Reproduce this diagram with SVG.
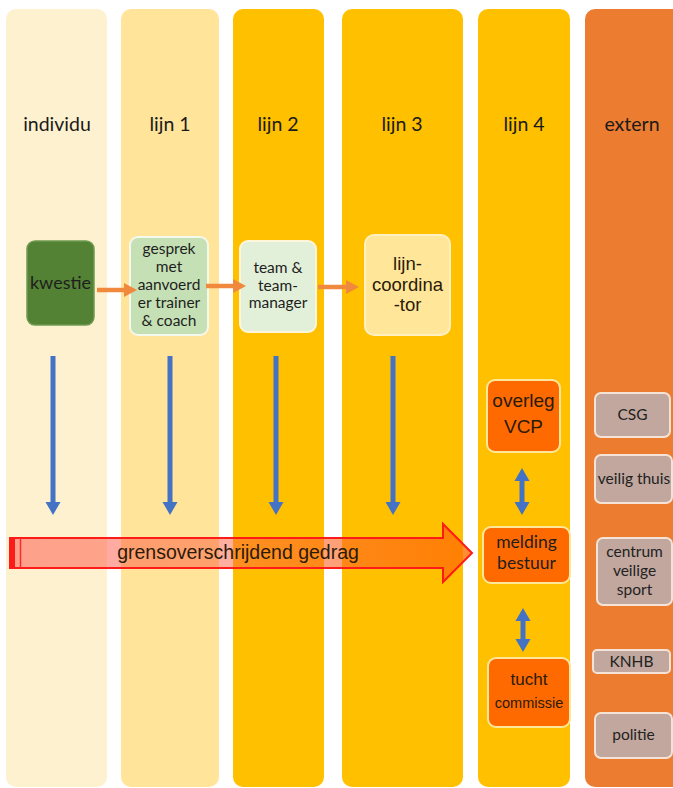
<svg xmlns="http://www.w3.org/2000/svg" width="673" height="788" viewBox="0 0 673 788">
<defs>
<style>
.hdr{font-family:Lato,"Liberation Sans",sans-serif;font-size:19.5px;fill:#1a1a1a;text-anchor:middle}
.cal{font-family:Lato,"Liberation Sans",sans-serif;text-anchor:middle;fill:#1e1e1e}
.ari{font-family:"Liberation Sans",Arial,sans-serif;text-anchor:middle;fill:#2a1a0a}
.ext rect{fill:#C1A79D;stroke:#F6E3D8;stroke-width:2}
.ext text{font-family:Lato,"Liberation Sans",sans-serif;font-size:15.5px;fill:#222;text-anchor:middle}
.l4 rect{fill:#FF6A00;stroke:#FFE79A;stroke-width:2}
.blue{stroke:#4472C4;stroke-width:5;fill:none}
.bluehead{fill:#4472C4}
.orng{stroke:#F0883E;stroke-width:4.5;fill:none}
.ornghead{fill:#F0883E}
</style>
<linearGradient id="bigfill" x1="0" y1="0" x2="1" y2="0">
<stop offset="0" stop-color="#FF5048" stop-opacity="0.5"/>
<stop offset="0.5" stop-color="#FF6040" stop-opacity="0.5"/>
<stop offset="1" stop-color="#FF7000" stop-opacity="0.8"/>
</linearGradient>
</defs>
<rect x="0" y="0" width="673" height="788" fill="#ffffff"/>
<g id="columns">
<rect x="6" y="9" width="101" height="778" rx="10" fill="#FEF1CF"/>
<rect x="121" y="9" width="98" height="778" rx="10" fill="#FFE49A"/>
<rect x="233" y="9" width="91" height="778" rx="10" fill="#FFC000"/>
<rect x="342" y="9" width="121" height="778" rx="10" fill="#FFC000"/>
<rect x="478" y="9" width="92" height="778" rx="10" fill="#FFC000"/>
<rect x="585" y="9" width="110" height="778" rx="10" fill="#EC7C30"/>
</g>
<g id="headers">
<text class="hdr" x="57" y="131">individu</text>
<text class="hdr" x="170" y="131">lijn 1</text>
<text class="hdr" x="278" y="131">lijn 2</text>
<text class="hdr" x="402" y="131">lijn 3</text>
<text class="hdr" x="524" y="131">lijn 4</text>
<text class="hdr" x="632" y="131">extern</text>
</g>
<g id="kwestie">
<rect x="27" y="241" width="67" height="84" rx="8" fill="#548235" stroke="#6F9A50" stroke-width="1.5"/>
<text class="cal" x="60.5" y="289" font-size="18" fill="#111">kwestie</text>
</g>
<g id="gesprek">
<rect x="130" y="237" width="78" height="98" rx="8" fill="#C5E0B4" stroke="#F4F9EE" stroke-width="2"/>
<text class="cal" font-size="15.5" x="169" y="254">gesprek</text>
<text class="cal" font-size="15.5" x="169" y="272">met</text>
<text class="cal" font-size="15.5" x="169" y="290">aanvoerd</text>
<text class="cal" font-size="15.5" x="169" y="308">er trainer</text>
<text class="cal" font-size="15.5" x="169" y="326">&amp; coach</text>
</g>
<g id="team">
<rect x="240" y="241" width="76" height="91" rx="8" fill="#E2EFD9" stroke="#FFF6DA" stroke-width="2"/>
<text class="cal" font-size="15.5" x="278" y="273">team &amp;</text>
<text class="cal" font-size="15.5" x="278" y="291">team-</text>
<text class="cal" font-size="15.5" x="278" y="308">manager</text>
</g>
<g id="lijncoordinator">
<rect x="365" y="235" width="85" height="100" rx="9" fill="#FFE699" stroke="#FFF0C2" stroke-width="2"/>
<text class="ari" font-size="18.5" x="407.5" y="270" fill="#222">lijn-</text>
<text class="ari" font-size="18.5" x="407.5" y="291" fill="#222">coordina</text>
<text class="ari" font-size="18.5" x="407.5" y="311" fill="#222">-tor</text>
</g>
<g id="overleg" class="l4">
<rect x="487" y="380" width="73" height="72" rx="8"/>
<text class="ari" font-size="19" x="523.5" y="407">overleg</text>
<text class="ari" font-size="19" x="523.5" y="433">VCP</text>
</g>
<g id="melding" class="l4">
<rect x="483" y="527" width="87" height="56" rx="8"/>
<text class="cal" font-size="17.5" x="526.5" y="548" fill="#2a1a0a">melding</text>
<text class="cal" font-size="17.5" x="526.5" y="569" fill="#2a1a0a">bestuur</text>
</g>
<g id="tucht" class="l4">
<rect x="488" y="658" width="82" height="69" rx="8"/>
<text class="ari" font-size="17" x="529" y="685">tucht</text>
<text class="ari" font-size="14.5" x="529" y="708">commissie</text>
</g>
<g id="csg" class="ext">
<rect x="595" y="393" width="75" height="44" rx="6"/>
<text x="632.5" y="420">CSG</text>
</g>
<g id="veiligthuis" class="ext">
<rect x="595" y="455" width="77" height="48" rx="6"/>
<text x="634" y="484">veilig thuis</text>
</g>
<g id="centrum" class="ext">
<rect x="597" y="538" width="75" height="67" rx="6"/>
<text x="634.5" y="557">centrum</text>
<text x="634.5" y="576">veilige</text>
<text x="634.5" y="595">sport</text>
</g>
<g id="knhb" class="ext">
<rect x="593" y="650" width="77" height="23" rx="4"/>
<text x="631.5" y="667">KNHB</text>
</g>
<g id="politie" class="ext">
<rect x="595" y="713" width="77" height="45" rx="6"/>
<text x="633.5" y="740">politie</text>
</g>
<g id="grensoverschrijdend">
<polygon points="10,538 443,538 443,524 472,553 443,582 443,568 10,568" fill="url(#bigfill)" stroke="#FF1A1A" stroke-width="2"/>
<rect x="10" y="538" width="5" height="30" fill="#FF1A1A"/>
<line x1="20.5" y1="538" x2="20.5" y2="568" stroke="#FF2A2A" stroke-width="1.5"/>
<text class="ari" font-size="19.5" x="238" y="559" fill="#2b2b2b">grensoverschrijdend gedrag</text>
</g>
<g id="connectors">
<line class="blue" x1="53" y1="356" x2="53" y2="503"/>
<polygon class="bluehead" points="45.5,502 60.5,502 53,515"/>
<line class="blue" x1="170" y1="356" x2="170" y2="503"/>
<polygon class="bluehead" points="162.5,502 177.5,502 170,515"/>
<line class="blue" x1="276" y1="356" x2="276" y2="503"/>
<polygon class="bluehead" points="268.5,502 283.5,502 276,515"/>
<line class="blue" x1="393" y1="356" x2="393" y2="503"/>
<polygon class="bluehead" points="385.5,502 400.5,502 393,515"/>
<line class="blue" x1="522" y1="480" x2="522" y2="503"/>
<polygon class="bluehead" points="514.5,481 529.5,481 522,468"/>
<polygon class="bluehead" points="514.5,502 529.5,502 522,515"/>
<line class="blue" x1="523" y1="619" x2="523" y2="641"/>
<polygon class="bluehead" points="515.5,621 530.5,621 523,608"/>
<polygon class="bluehead" points="515.5,639 530.5,639 523,652"/>
<line class="orng" x1="97" y1="290" x2="125" y2="290"/>
<polygon class="ornghead" points="124,283 124,297 137,290"/>
<line class="orng" x1="206" y1="286" x2="234" y2="286"/>
<polygon class="ornghead" points="233,279 233,293 246,286"/>
<line class="orng" x1="318" y1="287" x2="347" y2="287"/>
<polygon class="ornghead" points="346,280 346,294 359,287"/>
</g>
</svg>
